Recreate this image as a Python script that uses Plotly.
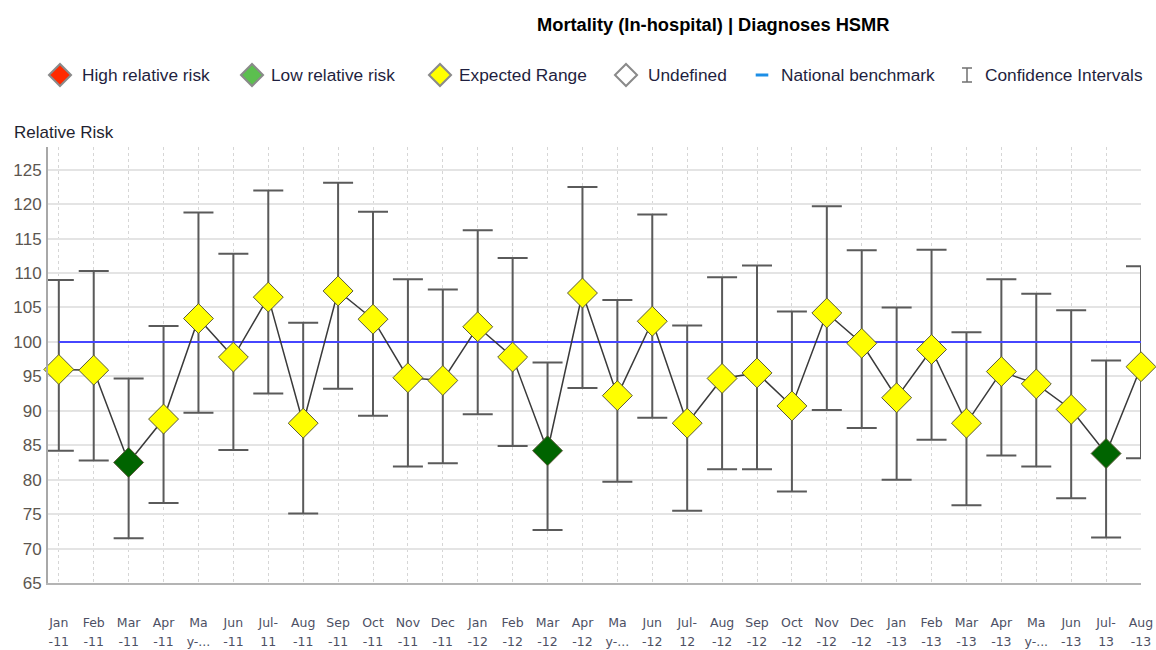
import plotly.graph_objects as go

# ---------------- data ----------------
months = ["Jan-11", "Feb-11", "Mar-11", "Apr-11", "May-11", "Jun-11", "Jul-11", "Aug-11",
          "Sep-11", "Oct-11", "Nov-11", "Dec-11", "Jan-12", "Feb-12", "Mar-12", "Apr-12",
          "May-12", "Jun-12", "Jul-12", "Aug-12", "Sep-12", "Oct-12", "Nov-12", "Dec-12",
          "Jan-13", "Feb-13", "Mar-13", "Apr-13", "May-13", "Jun-13", "Jul-13", "Aug-13"]
tick_lines = [("Jan", "-11"), ("Feb", "-11"), ("Mar", "-11"), ("Apr", "-11"), ("Ma", "y-..."),
              ("Jun", "-11"), ("Jul-", "11"), ("Aug", "-11"), ("Sep", "-11"), ("Oct", "-11"),
              ("Nov", "-11"), ("Dec", "-11"), ("Jan", "-12"), ("Feb", "-12"), ("Mar", "-12"),
              ("Apr", "-12"), ("Ma", "y-..."), ("Jun", "-12"), ("Jul-", "12"), ("Aug", "-12"),
              ("Sep", "-12"), ("Oct", "-12"), ("Nov", "-12"), ("Dec", "-12"), ("Jan", "-13"),
              ("Feb", "-13"), ("Mar", "-13"), ("Apr", "-13"), ("Ma", "y-..."), ("Jun", "-13"),
              ("Jul-", "13"), ("Aug", "-13")]
relative_risk = [96.0, 95.9, 82.5, 88.8, 103.4, 97.8, 106.5, 88.2, 107.4, 103.3, 94.8, 94.4,
                 102.2, 97.8, 84.2, 107.1, 92.2, 103.0, 88.2, 94.7, 95.5, 90.7, 104.2, 99.8,
                 91.9, 98.9, 88.2, 95.7, 93.9, 90.2, 83.8, 96.4]
ci_upper = [109.0, 110.3, 94.7, 102.3, 118.8, 112.8, 122.0, 102.8, 123.1, 118.9, 109.1, 107.6,
            116.2, 112.2, 97.0, 122.5, 106.1, 118.5, 102.4, 109.4, 111.1, 104.4, 119.7, 113.3,
            105.0, 113.4, 101.4, 109.1, 107.0, 104.6, 97.3, 111.0]
ci_lower = [84.2, 82.8, 71.5, 76.6, 89.7, 84.3, 92.5, 75.1, 93.2, 89.3, 81.9, 82.4,
            89.5, 84.9, 72.7, 93.3, 79.7, 89.0, 75.5, 81.5, 81.5, 78.3, 90.1, 87.5,
            80.0, 85.8, 76.3, 83.5, 81.9, 77.3, 71.6, 83.1]
status = ["Expected", "Expected", "Low", "Expected", "Expected", "Expected", "Expected", "Expected",
          "Expected", "Expected", "Expected", "Expected", "Expected", "Expected", "Low", "Expected",
          "Expected", "Expected", "Expected", "Expected", "Expected", "Expected", "Expected", "Expected",
          "Expected", "Expected", "Expected", "Expected", "Expected", "Expected", "Low", "Expected"]
benchmark_value = 100
y_ticks = [65, 70, 75, 80, 85, 90, 95, 100, 105, 110, 115, 120, 125]

legend_names = ["High relative risk", "Low relative risk", "Expected Range", "Undefined",
                "National benchmark", "Confidence Intervals"]

# ---------------- styling ----------------
status_colors = {"High": "#ff2a00", "Low": "#006400", "Expected": "#ffff00", "Undefined": "#ffffff"}
marker_colors = [status_colors[s] for s in status]
err_plus = [u - v for u, v in zip(ci_upper, relative_risk)]
err_minus = [v - l for v, l in zip(relative_risk, ci_lower)]
span = "<span style='font-size:12.5px'>{}</span>"
tick_text = [span.format(a) + "<br>" + span.format(b) for a, b in tick_lines]

fig = go.Figure()

# confidence intervals
fig.add_trace(go.Scatter(
    x=months, y=relative_risk, mode="markers",
    marker=dict(size=0.1, color="rgba(0,0,0,0)"),
    error_y=dict(type="data", symmetric=False, array=err_plus, arrayminus=err_minus,
                 color="#5a5a5a", thickness=2, width=15),
    cliponaxis=False, showlegend=False, hoverinfo="skip"))

# national benchmark
fig.add_trace(go.Scatter(
    x=[months[0], months[-1]], y=[benchmark_value, benchmark_value], mode="lines",
    line=dict(color="#4646ff", width=2), showlegend=False, hoverinfo="skip"))

# relative risk
fig.add_trace(go.Scatter(
    x=months, y=relative_risk, mode="lines+markers",
    line=dict(color="#3a3a3a", width=1.5),
    marker=dict(symbol="diamond", size=23, color=marker_colors,
                line=dict(color="#5a5a3a", width=1)),
    cliponaxis=False, showlegend=False))

# ---------------- custom legend row (overlay axes in page-pixel units) ----------------
leg_icon_x = [60, 252, 440, 626, 762, 967]
leg_text_x = [80, 269, 457, 646, 779, 983]
fills = ["#ff2a00", "#5cbf4f", "#ffff00", "#ffffff"]
for i in range(4):
    fig.add_trace(go.Scatter(
        x=[leg_icon_x[i]], y=[0], xaxis="x2", yaxis="y2", mode="markers",
        marker=dict(symbol="diamond", size=17, color=fills[i],
                    line=dict(color="#8a8a8a", width=2)),
        showlegend=False, hoverinfo="skip", cliponaxis=False))
fig.add_trace(go.Scatter(
    x=[leg_icon_x[4]], y=[0], xaxis="x2", yaxis="y2", mode="markers",
    marker=dict(symbol="line-ew", size=9, line=dict(color="#1c8ee6", width=3)),
    showlegend=False, hoverinfo="skip", cliponaxis=False))
fig.add_trace(go.Scatter(
    x=[leg_icon_x[5]], y=[0], xaxis="x2", yaxis="y2", mode="markers",
    marker=dict(size=0.1, color="rgba(0,0,0,0)"),
    error_y=dict(type="constant", value=0.33, color="#707070", thickness=1.5, width=5),
    showlegend=False, hoverinfo="skip", cliponaxis=False))

annotations = []
for name, tx in zip(legend_names, leg_text_x):
    annotations.append(dict(x=tx, y=0, xref="x2", yref="y2", text=name, showarrow=False,
                            xanchor="left", yanchor="middle",
                            font=dict(family="Arial, Liberation Sans", size=17.3, color="#1f1f40")))

# page is made margin-free (see post_script), so figure pixels == page pixels
FIG_W, FIG_H = 1156, 650
PLOT_L, PLOT_R, PLOT_T, PLOT_B = 48, 1141, 10, 583       # page-pixel edges of the plot area
area_h = PLOT_B - PLOT_T
def py(p):
    return (PLOT_B - p) / area_h
def px(p):
    return (p - PLOT_L) / (PLOT_R - PLOT_L)

annotations.append(dict(x=px(713), y=py(25), xref="paper", yref="paper",
                        text="<b>Mortality (In-hospital) | Diagnoses HSMR</b>", showarrow=False,
                        xanchor="center", yanchor="middle",
                        font=dict(family="Arial, Liberation Sans", size=18.3, color="#000000")))
annotations.append(dict(x=px(12), y=py(133), xref="paper", yref="paper",
                        text="Relative Risk", showarrow=False, xanchor="left", yanchor="middle",
                        font=dict(family="Arial, Liberation Sans", size=17, color="#1f1f30")))

fig.update_layout(
    width=FIG_W, height=FIG_H, autosize=False,
    margin=dict(l=PLOT_L, r=FIG_W - PLOT_R, t=PLOT_T, b=FIG_H - PLOT_B, pad=0, autoexpand=False),
    paper_bgcolor="white", plot_bgcolor="white",
    showlegend=False,
    annotations=annotations,
    xaxis=dict(type="category", categoryorder="array", categoryarray=months,
               range=[-0.31, len(months) - 1], automargin=False,
               tickmode="array", tickvals=months, ticktext=tick_text,
               tickfont=dict(family="DejaVu Sans", size=14.6, color="#4d5064"),
               ticks="", ticklabelstandoff=24,
               showgrid=True, gridcolor="#d6d6d6", gridwidth=1, griddash="dot",
               showline=True, linecolor="#b4b4b4", linewidth=2,
               zeroline=False, anchor="y", fixedrange=True),
    yaxis=dict(domain=[0, py(147)], range=[65, 128.3], automargin=False,
               tickmode="array", tickvals=y_ticks,
               tickfont=dict(family="Arial, Liberation Sans", size=17, color="#5c5650"),
               ticks="", ticklabelstandoff=1,
               showgrid=True, gridcolor="#e4e4e4", gridwidth=1.5,
               showline=True, linecolor="#a8a8a8", linewidth=2,
               zeroline=False, fixedrange=True),
    xaxis2=dict(domain=[0, 1], range=[PLOT_L, PLOT_R], anchor="y2", visible=False,
                fixedrange=True, automargin=False),
    yaxis2=dict(domain=[py(96), py(54)], range=[-1, 1], anchor="x2", visible=False,
                fixedrange=True, automargin=False),
)

fig.write_html("out.html",
               config={"displayModeBar": False, "responsive": False},
               post_script="document.body.style.margin='0';document.body.style.overflow='hidden';")
